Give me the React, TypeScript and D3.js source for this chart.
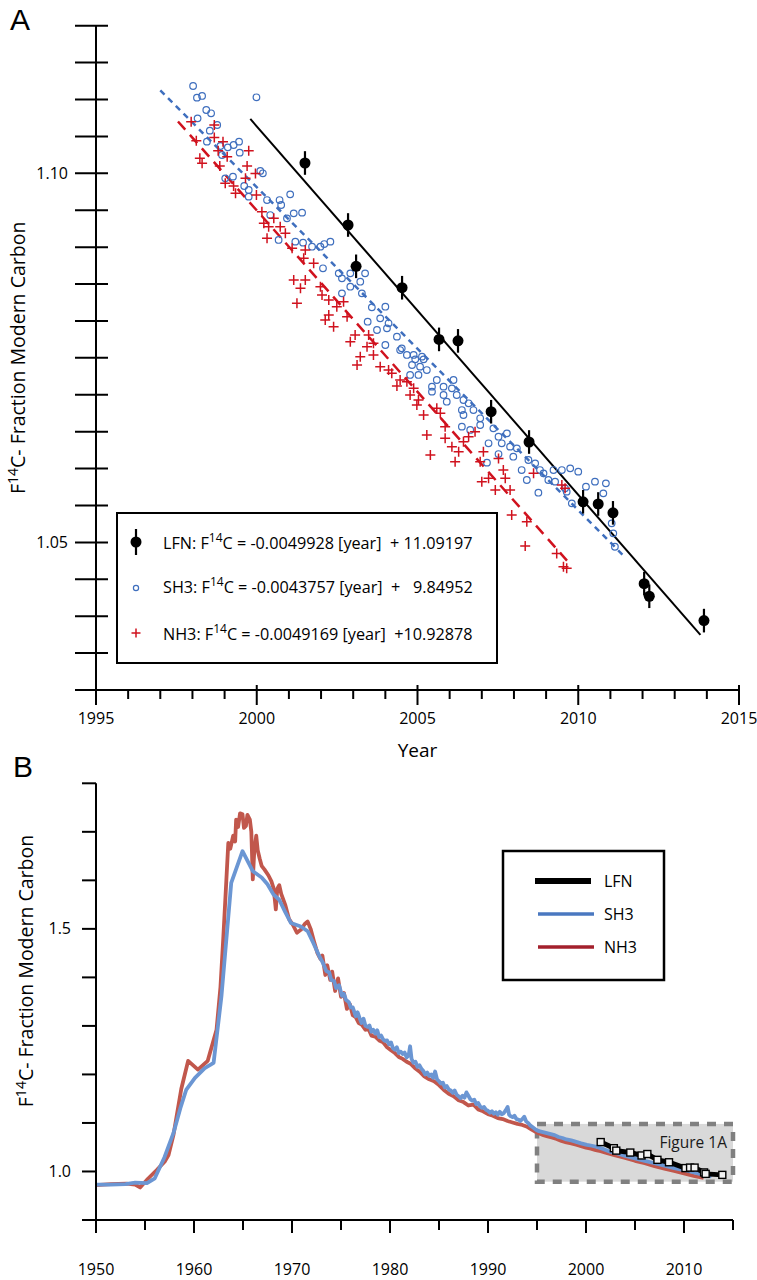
import React from "react";
import * as d3 from "d3";

// ---------- Panel A data (F14C vs year, 1995–2015) ----------
const LFN_YEARS = [2001.5, 2002.84, 2003.09, 2004.52, 2005.67, 2006.26, 2007.29, 2008.47, 2010.15, 2010.62, 2011.08, 2012.05, 2012.21, 2013.91];
const LFN_VALUES = [1.1014, 1.093, 1.0874, 1.0845, 1.0775, 1.0773, 1.0677, 1.0636, 1.0555, 1.0552, 1.054, 1.0444, 1.0427, 1.0394];
const LFN_ERROR = 0.0016;

const SH3_POINTS: [number, number][] = [
  [1998.02, 1.11183], [1998.14, 1.11025], [1998.3, 1.11048], [1998.43, 1.10858], [1998.58, 1.10813],
  [1998.16, 1.10745], [1998.77, 1.10655], [1998.54, 1.10578], [1998.45, 1.10429], [1998.87, 1.1037],
  [1999.1, 1.10352], [1999.28, 1.10384], [1999.45, 1.10429], [1999.47, 1.1028], [1998.92, 1.10248],
  [2000.11, 1.10032], [2000.19, 1.1], [1999.02, 1.09932], [1999.26, 1.09955], [1999.61, 1.09828],
  [1999.75, 1.09774], [1999.75, 1.09684], [1999.99, 1.1103], [2000.32, 1.09638], [2000.71, 1.09638],
  [2000.76, 1.09571], [2001.04, 1.09715], [2000.42, 1.09435], [2000.94, 1.0939], [2001.15, 1.09458],
  [2001.41, 1.09467], [2000.68, 1.09097], [2001.2, 1.09074], [2001.44, 1.09061], [2001.72, 1.09006],
  [2001.98, 1.09006], [2002.1, 1.09042], [2002.29, 1.09074], [2002.06, 1.08713], [2002.55, 1.08645],
  [2002.65, 1.08577], [2002.91, 1.08645], [2003.37, 1.08645], [2003.22, 1.08532], [2002.91, 1.08464],
  [2002.65, 1.08374], [2003.27, 1.08374], [2003.58, 1.08184], [2004.0, 1.08193], [2003.45, 1.0799],
  [2003.84, 1.08035], [2004.1, 1.07968], [2003.74, 1.07877], [2004.36, 1.07787], [2004.05, 1.079],
  [2004.51, 1.07629], [2004.67, 1.07539], [2004.88, 1.07539], [2005.14, 1.07516], [2004.0, 1.07674],
  [2004.46, 1.07606], [2004.93, 1.0748], [2005.19, 1.0748], [2004.83, 1.07403], [2005.08, 1.07381],
  [2005.29, 1.07335], [2004.77, 1.07268], [2005.03, 1.07268], [2005.6, 1.072], [2006.12, 1.072],
  [2005.45, 1.0711], [2005.81, 1.0711], [2006.07, 1.07087], [2005.45, 1.07042], [2005.81, 1.06997],
  [2006.22, 1.06997], [2005.91, 1.06906], [2006.43, 1.06929], [2006.59, 1.06884], [2006.38, 1.06793],
  [2006.74, 1.06793], [2006.43, 1.06726], [2006.95, 1.06681], [2006.38, 1.06568], [2006.64, 1.06523],
  [2006.95, 1.0659], [2007.36, 1.06545], [2007.52, 1.06432], [2007.21, 1.06342], [2007.78, 1.06477],
  [2007.62, 1.06342], [2007.88, 1.06297], [2008.09, 1.06274], [2007.16, 1.0608], [2007.52, 1.06197],
  [2007.98, 1.06161], [2008.45, 1.06116], [2008.66, 1.06071], [2008.24, 1.0598], [2008.81, 1.0598],
  [2008.4, 1.05845], [2008.92, 1.05935], [2009.07, 1.05845], [2008.76, 1.05673], [2009.23, 1.0598],
  [2009.49, 1.0598], [2009.75, 1.06003], [2010.0, 1.05958], [2009.28, 1.05823], [2009.59, 1.05732],
  [2009.64, 1.05687], [2010.24, 1.05755], [2010.52, 1.05823], [2010.86, 1.058], [2010.78, 1.05664],
  [2011.04, 1.05258], [2011.09, 1.05122], [2011.14, 1.04941], [2009.8, 1.05529],
];

const NH3_POINTS: [number, number][] = [
  [1997.96, 1.107], [1998.68, 1.10655], [1998.12, 1.10442], [1998.23, 1.10203], [1998.3, 1.10135],
  [1998.68, 1.10487], [1998.95, 1.10429], [1998.8, 1.10307], [1999.08, 1.10226], [1999.75, 1.10307],
  [1998.85, 1.10099], [1999.7, 1.10099], [1999.96, 1.09999], [1999.02, 1.09864], [1999.28, 1.09828],
  [1999.34, 1.09729], [1999.65, 1.09932], [1999.99, 1.09706], [2000.16, 1.09481], [2000.22, 1.09322],
  [2000.53, 1.0939], [2000.37, 1.09277], [2000.73, 1.09277], [2000.32, 1.09119], [2000.89, 1.09187],
  [2001.1, 1.08984], [2001.51, 1.08961], [2001.46, 1.08848], [2001.77, 1.0878], [2001.15, 1.08555],
  [2001.36, 1.08442], [2001.51, 1.08555], [2001.25, 1.08239], [2001.98, 1.08464], [2002.03, 1.08351],
  [2002.24, 1.08284], [2002.49, 1.08193], [2002.7, 1.08261], [2002.81, 1.08058], [2002.24, 1.08081],
  [2002.39, 1.07922], [2002.13, 1.08013], [2003.06, 1.0781], [2002.91, 1.07719], [2003.48, 1.0781],
  [2003.63, 1.07697], [2003.43, 1.07652], [2003.22, 1.07516], [2003.63, 1.07539], [2003.12, 1.07403],
  [2003.84, 1.07381], [2004.1, 1.07335], [2004.2, 1.0729], [2004.46, 1.072], [2004.36, 1.07118],
  [2004.67, 1.07177], [2004.88, 1.07087], [2004.77, 1.06997], [2005.03, 1.06929], [2004.98, 1.06861],
  [2005.19, 1.06726], [2005.6, 1.06816], [2005.71, 1.06748], [2005.86, 1.06568], [2005.29, 1.06455],
  [2005.4, 1.06184], [2005.86, 1.0641], [2006.07, 1.06297], [2006.28, 1.06229], [2006.17, 1.06093],
  [2006.43, 1.06365], [2006.59, 1.06432], [2006.79, 1.065], [2006.95, 1.06093], [2007.05, 1.06229],
  [2007.52, 1.06138], [2007.0, 1.05823], [2007.21, 1.05868], [2007.42, 1.0571], [2007.67, 1.0598],
  [2007.73, 1.05868], [2007.88, 1.0571], [2008.61, 1.05935], [2009.49, 1.05777], [2009.59, 1.05732],
  [2007.93, 1.05371], [2008.4, 1.05281], [2008.35, 1.04951], [2009.33, 1.04851], [2009.54, 1.04671],
  [2009.64, 1.04648],
];

// Linear fits: F14C = slope * year + intercept
const FIT_NAMES = ["LFN", "SH3", "NH3"];
const FIT_SLOPES = [-0.0049928, -0.0043757, -0.0049169];
const FIT_INTERCEPTS = [11.09197, 9.84952, 10.92878];
const FIT_INTERCEPT_LABELS = ["+ 11.09197", "+   9.84952", "+10.92878"];
const FIT_SPANS: [number, number][] = [[1999.8, 2013.8], [1997.0, 2011.4], [1997.55, 2009.65]];

const A_X_TICKS = d3.range(1995, 2016, 1);
const A_X_LABELS = [1995, 2000, 2005, 2010, 2015];
const A_Y_TICKS = d3.range(0, 19).map((i) => +(1.03 + i * 0.005).toFixed(3));
const A_Y_LABELS = [1.05, 1.1];

// ---------- Panel B data (1950–2015 atmospheric record) ----------
const SH3_SERIES: [number, number][] = [
  [1950.0, 0.973], [1951.5, 0.973], [1953.0, 0.974], [1954.0, 0.977], [1955.2, 0.976], [1956.0, 0.986],
  [1957.0, 1.03], [1957.9, 1.079], [1958.6, 1.13], [1959.2, 1.168], [1960.1, 1.193], [1961.1, 1.213],
  [1962.0, 1.224], [1962.8, 1.361], [1963.8, 1.595], [1964.95, 1.66], [1966.0, 1.619], [1966.9, 1.606],
  [1967.5, 1.592], [1968.1, 1.571], [1968.7, 1.56], [1969.3, 1.535], [1969.9, 1.512], [1970.9, 1.505],
  [1971.6, 1.495], [1972.2, 1.47], [1972.8, 1.443], [1973.1, 1.432], [1973.5, 1.413], [1973.8, 1.41],
  [1974.0, 1.395], [1974.3, 1.392], [1974.5, 1.378], [1974.8, 1.384], [1975.1, 1.362], [1975.3, 1.366],
  [1975.5, 1.354], [1975.8, 1.349], [1976.0, 1.338], [1976.2, 1.338], [1976.5, 1.32], [1976.7, 1.328],
  [1976.9, 1.316], [1977.1, 1.306], [1977.3, 1.315], [1977.5, 1.3], [1977.7, 1.298], [1977.9, 1.301],
  [1978.1, 1.288], [1978.3, 1.292], [1978.5, 1.284], [1978.7, 1.291], [1978.9, 1.277], [1979.1, 1.28],
  [1979.3, 1.272], [1979.5, 1.269], [1979.7, 1.27], [1979.9, 1.262], [1980.1, 1.266], [1980.3, 1.254],
  [1980.5, 1.251], [1980.7, 1.256], [1980.9, 1.244], [1981.1, 1.247], [1981.3, 1.242], [1981.5, 1.245],
  [1981.7, 1.235], [1981.9, 1.239], [1982.05, 1.258], [1982.2, 1.232], [1982.4, 1.224], [1982.6, 1.226],
  [1982.8, 1.216], [1983.0, 1.219], [1983.2, 1.212], [1983.4, 1.207], [1983.6, 1.2], [1983.8, 1.204],
  [1984.0, 1.197], [1984.2, 1.2], [1984.4, 1.193], [1984.6, 1.206], [1984.8, 1.19], [1985.0, 1.186],
  [1985.2, 1.181], [1985.4, 1.183], [1985.6, 1.173], [1985.8, 1.176], [1986.0, 1.169], [1986.2, 1.167],
  [1986.4, 1.162], [1986.6, 1.167], [1986.8, 1.158], [1987.0, 1.155], [1987.2, 1.151], [1987.4, 1.156],
  [1987.6, 1.152], [1987.8, 1.163], [1988.0, 1.156], [1988.2, 1.149], [1988.4, 1.146], [1988.6, 1.148],
  [1988.8, 1.139], [1989.0, 1.141], [1989.2, 1.134], [1989.4, 1.131], [1989.6, 1.133], [1989.8, 1.127],
  [1990.0, 1.125], [1990.2, 1.121], [1990.4, 1.124], [1990.6, 1.119], [1990.8, 1.122], [1991.0, 1.117],
  [1991.2, 1.123], [1991.4, 1.118], [1991.6, 1.12], [1991.8, 1.126], [1992.0, 1.133], [1992.15, 1.117],
  [1992.3, 1.114], [1992.5, 1.112], [1992.7, 1.115], [1992.9, 1.108], [1993.1, 1.107], [1993.3, 1.104],
  [1993.5, 1.108], [1993.7, 1.113], [1993.9, 1.103], [1994.1, 1.1], [1994.3, 1.095], [1994.5, 1.092],
  [1994.7, 1.089], [1994.9, 1.086], [1995.2, 1.083], [1995.6, 1.081], [1996.0, 1.079], [1996.4, 1.077],
  [1996.8, 1.075], [1997.2, 1.071], [1997.6, 1.069], [1998.0, 1.066], [1998.5, 1.064], [1999.0, 1.061],
  [1999.5, 1.058], [2000.1, 1.055], [2000.6, 1.053], [2001.2, 1.05], [2001.8, 1.046], [2002.4, 1.041],
  [2003.2, 1.037], [2004.0, 1.032], [2005.0, 1.027], [2006.0, 1.022], [2007.0, 1.017], [2008.0, 1.012],
  [2009.0, 1.007], [2010.0, 1.003], [2011.0, 0.998], [2012.0, 0.993], [2012.8, 0.99],
];

const NH3_SERIES: [number, number][] = [
  [1950.0, 0.972], [1951.5, 0.974], [1953.1, 0.975], [1954.0, 0.973], [1954.5, 0.967], [1955.3, 0.985],
  [1956.2, 1.003], [1957.0, 1.02], [1957.4, 1.034], [1957.9, 1.075], [1958.7, 1.17], [1959.4, 1.228],
  [1960.4, 1.21], [1961.4, 1.228], [1962.3, 1.292], [1962.7, 1.38], [1963.0, 1.485], [1963.3, 1.6],
  [1963.5, 1.677], [1963.7, 1.665], [1964.0, 1.692], [1964.2, 1.68], [1964.3, 1.725], [1964.5, 1.71],
  [1964.7, 1.738], [1964.95, 1.736], [1965.1, 1.708], [1965.3, 1.712], [1965.45, 1.735], [1965.7, 1.725],
  [1965.85, 1.7], [1966.0, 1.602], [1966.15, 1.66], [1966.35, 1.692], [1966.5, 1.662], [1966.7, 1.645],
  [1966.9, 1.63], [1967.2, 1.622], [1967.6, 1.61], [1967.9, 1.598], [1968.1, 1.585], [1968.25, 1.56],
  [1968.35, 1.54], [1968.5, 1.583], [1968.7, 1.59], [1968.9, 1.572], [1969.3, 1.55], [1969.7, 1.52],
  [1970.1, 1.508], [1970.5, 1.492], [1970.9, 1.498], [1971.3, 1.51], [1971.6, 1.515], [1971.9, 1.5],
  [1972.3, 1.47], [1972.6, 1.45], [1972.9, 1.438], [1973.1, 1.445], [1973.4, 1.405], [1973.6, 1.425],
  [1973.9, 1.395], [1974.1, 1.412], [1974.4, 1.372], [1974.7, 1.398], [1975.0, 1.36], [1975.3, 1.368],
  [1975.6, 1.335], [1975.9, 1.345], [1976.2, 1.322], [1976.5, 1.318], [1976.8, 1.306], [1977.1, 1.303],
  [1977.5, 1.292], [1977.8, 1.294], [1978.1, 1.28], [1978.5, 1.278], [1978.9, 1.27], [1979.3, 1.266],
  [1979.7, 1.256], [1980.1, 1.25], [1980.5, 1.244], [1980.9, 1.236], [1981.3, 1.232], [1981.7, 1.226],
  [1982.1, 1.222], [1982.5, 1.214], [1983.0, 1.206], [1983.5, 1.196], [1984.0, 1.19], [1984.5, 1.186],
  [1985.0, 1.178], [1985.5, 1.168], [1986.0, 1.16], [1986.5, 1.155], [1987.0, 1.147], [1987.5, 1.143],
  [1988.0, 1.136], [1988.5, 1.138], [1989.0, 1.128], [1989.5, 1.124], [1990.0, 1.118], [1990.5, 1.115],
  [1991.0, 1.11], [1991.5, 1.108], [1992.0, 1.104], [1992.5, 1.101], [1993.0, 1.098], [1993.5, 1.096],
  [1994.0, 1.092], [1994.5, 1.086], [1995.0, 1.08], [1995.5, 1.076], [1996.0, 1.073], [1996.5, 1.07],
  [1997.0, 1.067], [1997.5, 1.063], [1998.0, 1.06], [1998.5, 1.058], [1999.0, 1.055], [1999.5, 1.052],
  [2000.0, 1.049], [2000.5, 1.047], [2001.0, 1.044], [2001.5, 1.042], [2002.0, 1.039], [2003.0, 1.033],
  [2004.0, 1.028], [2005.0, 1.022], [2006.0, 1.017], [2007.0, 1.011], [2008.0, 1.006], [2009.0, 1.001],
  [2010.0, 0.996], [2011.0, 0.991], [2012.0, 0.987],
];

// LFN as plotted on the long-record panel
const LFN_B_VALUES = [1.0606, 1.048, 1.043, 1.039, 1.033, 1.036, 1.024, 1.019, 1.007, 1.008, 1.008, 0.998, 0.995, 0.993];

const INSET_YEARS: [number, number] = [1995, 2015];
const INSET_VALUES: [number, number] = [0.979, 1.098];

const B_X_TICKS = d3.range(1950, 2016, 5);
const B_X_LABELS = d3.range(1950, 2011, 10);
const B_Y_TICKS = d3.range(0, 10).map((i) => +(0.9 + i * 0.1).toFixed(1));
const B_Y_LABELS = [1.0, 1.5];

const LEGEND_B = ["LFN", "SH3", "NH3"];

const FONT = "'Open Sans', 'DejaVu Sans', sans-serif";
const PANEL_FONT = "'Liberation Sans', Arial, sans-serif";
const BLUE_PTS = "#3f6fbe";
const RED_PTS = "#d0121e";
const B_RED = "#c1574c";
const B_BLUE = "#6b96d3";

export default function App() {
  // Panel A scales
  const xA = d3.scaleLinear().domain([1995, 2015]).range([96, 739]);
  const yA = d3.scaleLinear().domain([1.03, 1.12]).range([690, 25.7]);
  // Panel B scales
  const xB = d3.scaleLinear().domain([1950, 2015]).range([96, 733]);
  const yB = d3.scaleLinear().domain([0.9, 1.8]).range([1220, 783.3]);

  const lineB = d3
    .line<[number, number]>()
    .x((d) => xB(d[0]))
    .y((d) => yB(d[1]))
    .curve(d3.curveLinear);

  const lfnB: [number, number][] = LFN_YEARS.map((yr, i) => [yr, LFN_B_VALUES[i]]);

  const fitColors = ["#000", "#3f6fbe", "#d0121e"];
  const fitDash = [undefined, "6 5", "11 7"];
  const fitWidth = [2, 2.5, 2.5];

  const crossPath = (cx: number, cy: number, s: number) =>
    `M${cx - s},${cy}H${cx + s}M${cx},${cy - s}V${cy + s}`;

  const legendRowsY = [549, 593, 640];

  return (
    <svg
      width={757}
      height={1280}
      style={{ position: "absolute", left: 0, top: 0, background: "#fff" }}
      fontFamily={FONT}
    >
      <rect x={0} y={0} width={757} height={1280} fill="#fff" />

      {/* ================= Panel A ================= */}
      <text x={10} y={30} fontSize={30} fontFamily={PANEL_FONT} fill="#000">A</text>

      {/* fitted lines */}
      {FIT_NAMES.map((n, i) => {
        const [a, b] = FIT_SPANS[i];
        const f = (t: number) => FIT_SLOPES[i] * t + FIT_INTERCEPTS[i];
        return (
          <line
            key={n}
            x1={xA(a)}
            y1={yA(f(a))}
            x2={xA(b)}
            y2={yA(f(b))}
            stroke={fitColors[i]}
            strokeWidth={fitWidth[i]}
            strokeDasharray={fitDash[i]}
          />
        );
      })}

      {/* SH3 circles */}
      {SH3_POINTS.map((d, i) => (
        <circle key={"s" + i} cx={xA(d[0])} cy={yA(d[1])} r={3.3} fill="none" stroke={BLUE_PTS} strokeWidth={1.2} />
      ))}
      {/* NH3 crosses */}
      {NH3_POINTS.map((d, i) => (
        <path key={"n" + i} d={crossPath(xA(d[0]), yA(d[1]), 5)} stroke={RED_PTS} strokeWidth={1.5} fill="none" />
      ))}
      {/* LFN points with error bars */}
      {LFN_YEARS.map((yr, i) => (
        <g key={"l" + i}>
          <line
            x1={xA(yr)}
            x2={xA(yr)}
            y1={yA(LFN_VALUES[i] + LFN_ERROR)}
            y2={yA(LFN_VALUES[i] - LFN_ERROR)}
            stroke="#000"
            strokeWidth={2.2}
          />
          <circle cx={xA(yr)} cy={yA(LFN_VALUES[i])} r={5.5} fill="#000" />
        </g>
      ))}

      {/* axes A */}
      <line x1={96} x2={96} y1={yA(1.12)} y2={690} stroke="#000" strokeWidth={2} />
      <line x1={75} x2={739} y1={690} y2={690} stroke="#000" strokeWidth={2} />
      {A_Y_TICKS.map((t) => (
        <line key={"ya" + t} x1={75} x2={108} y1={yA(t)} y2={yA(t)} stroke="#000" strokeWidth={2} />
      ))}
      {A_Y_LABELS.map((t) => (
        <text key={"yal" + t} x={68} y={yA(t) + 5.5} fontSize={16} textAnchor="end" fill="#000">
          {d3.format(".2f")(t)}
        </text>
      ))}
      {A_X_TICKS.map((t) => {
        const major = t % 5 === 0;
        return (
          <line
            key={"xa" + t}
            x1={xA(t)}
            x2={xA(t)}
            y1={major ? 685 : 690}
            y2={major ? 705 : 699}
            stroke="#000"
            strokeWidth={2}
          />
        );
      })}
      {A_X_LABELS.map((t) => (
        <text key={"xal" + t} x={xA(t)} y={724} fontSize={16} textAnchor="middle" fill="#000">
          {t}
        </text>
      ))}
      <text x={xA(2005)} y={757} fontSize={19} textAnchor="middle" fill="#000">Year</text>
      <text transform={`translate(25,${yA(1.075)}) rotate(-90)`} fontSize={19.5} textAnchor="middle" fill="#000">
        F<tspan dy={-7} fontSize={14}>14</tspan>
        <tspan dy={7}>C- Fraction Modern Carbon</tspan>
      </text>

      {/* legend A */}
      <rect x={117} y={513} width={380} height={150} fill="#fff" stroke="#000" strokeWidth={2} />
      <line x1={136} x2={136} y1={legendRowsY[0] - 20} y2={legendRowsY[0] + 6} stroke="#000" strokeWidth={2.2} />
      <circle cx={136} cy={legendRowsY[0] - 7} r={5.5} fill="#000" />
      <circle cx={136} cy={legendRowsY[1] - 5} r={2.6} fill="none" stroke={BLUE_PTS} strokeWidth={1.2} />
      <path d={crossPath(136, legendRowsY[2] - 7, 4.5)} stroke={RED_PTS} strokeWidth={1.5} />
      {FIT_NAMES.map((n, i) => (
        <text key={"lg" + n} x={163} y={legendRowsY[i]} fontSize={16.2} fill="#000" style={{ whiteSpace: "pre" }}>
          {n}: F<tspan dy={-7} fontSize={12}>14</tspan>
          <tspan dy={7}>{`C = ${FIT_SLOPES[i].toFixed(7)} [year]  ${FIT_INTERCEPT_LABELS[i]}`}</tspan>
        </text>
      ))}

      {/* ================= Panel B ================= */}
      <text x={13} y={777} fontSize={30} fontFamily={PANEL_FONT} fill="#000">B</text>

      {/* inset box marking the range of panel A */}
      <rect
        x={xB(INSET_YEARS[0])}
        y={yB(INSET_VALUES[1])}
        width={xB(INSET_YEARS[1]) - xB(INSET_YEARS[0])}
        height={yB(INSET_VALUES[0]) - yB(INSET_VALUES[1])}
        fill="#d9d9d9"
        stroke="#808080"
        strokeWidth={4.5}
        strokeDasharray="9 8"
      />
      <text x={xB(INSET_YEARS[1]) - 6} y={yB(INSET_VALUES[1]) + 24} fontSize={15.5} textAnchor="end" fill="#1a1a1a">
        Figure 1A
      </text>

      <path d={lineB(NH3_SERIES) || ""} fill="none" stroke={B_RED} strokeWidth={3.8} strokeLinejoin="round" />
      <path d={lineB(SH3_SERIES) || ""} fill="none" stroke={B_BLUE} strokeWidth={3.8} strokeLinejoin="round" />
      <path d={lineB(lfnB) || ""} fill="none" stroke="#000" strokeWidth={5} />
      {lfnB.map((d, i) => (
        <rect key={"sq" + i} x={xB(d[0]) - 3.5} y={yB(d[1]) - 3.5} width={7} height={7} fill="#f2f2f2" stroke="#000" strokeWidth={1.4} />
      ))}

      {/* axes B */}
      <line x1={96} x2={96} y1={yB(1.8)} y2={1220} stroke="#000" strokeWidth={2} />
      <line x1={82} x2={733} y1={1220} y2={1220} stroke="#000" strokeWidth={2} />
      {B_Y_TICKS.map((t) => (
        <line key={"yb" + t} x1={82} x2={96} y1={yB(t)} y2={yB(t)} stroke="#000" strokeWidth={2} />
      ))}
      {B_Y_LABELS.map((t) => (
        <text key={"ybl" + t} x={71} y={yB(t) + 5.5} fontSize={16} textAnchor="end" fill="#000">
          {d3.format(".1f")(t)}
        </text>
      ))}
      {B_X_TICKS.map((t) => (
        <line
          key={"xb" + t}
          x1={xB(t)}
          x2={xB(t)}
          y1={1220}
          y2={t % 10 === 0 ? 1233 : 1230}
          stroke="#000"
          strokeWidth={2}
        />
      ))}
      {B_X_LABELS.map((t) => (
        <text key={"xbl" + t} x={xB(t)} y={1275} fontSize={16} textAnchor="middle" fill="#000">
          {t}
        </text>
      ))}
      <text transform={`translate(33,971) rotate(-90)`} fontSize={19.5} textAnchor="middle" fill="#000">
        F<tspan dy={-7} fontSize={14}>14</tspan>
        <tspan dy={7}>C- Fraction Modern Carbon</tspan>
      </text>

      {/* legend B */}
      <rect x={503} y={851} width={161} height={129} fill="#fff" stroke="#000" strokeWidth={2.5} />
      {LEGEND_B.map((n, i) => (
        <g key={"lb" + n}>
          <line
            x1={i === 0 ? 535 : 538}
            x2={i === 0 ? 591 : 594}
            y1={881 + i * 33}
            y2={881 + i * 33}
            stroke={["#000", "#4a78c0", "#a3202c"][i]}
            strokeWidth={i === 0 ? 6 : 3.5}
          />
          <text x={604} y={887 + i * 33} fontSize={16} fill="#000">{n}</text>
        </g>
      ))}
    </svg>
  );
}
